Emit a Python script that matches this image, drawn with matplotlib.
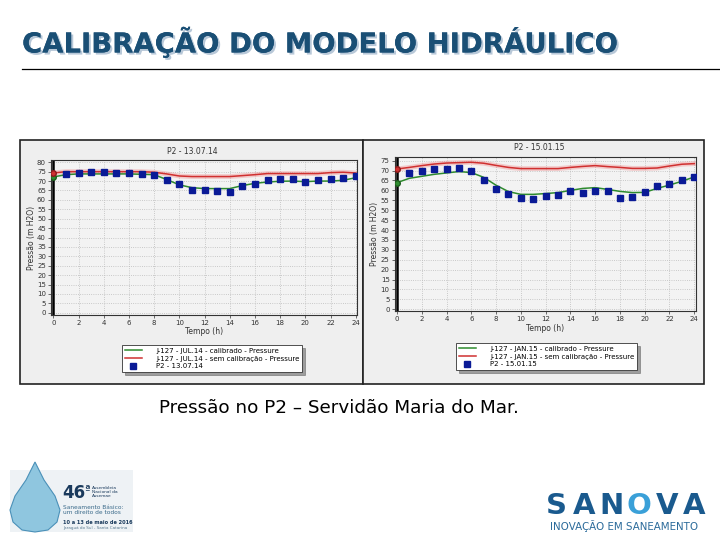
import matplotlib.pyplot as plt
import matplotlib.patheffects as pe
from matplotlib.patches import Rectangle, Polygon
import numpy as np

W, H = 720, 540

# dados (pressão em m H2O, hora a hora)
horas = list(range(25))

# P2 - 13.07.14
jul_calib = [72.2, 73.4, 73.8, 73.8, 73.8, 73.8, 73.8, 73.6, 73.4, 70.8, 68.0, 66.5, 66.0,
             66.0, 66.0, 67.6, 68.8, 69.5, 69.9, 70.0, 69.7, 70.0, 70.0, 70.4, 71.8]
jul_sem = [74.3, 75.0, 75.0, 75.0, 75.0, 75.0, 75.0, 75.0, 74.7, 73.8, 72.7, 72.4, 72.4,
           72.4, 72.4, 72.9, 73.4, 74.0, 74.0, 74.0, 74.0, 74.0, 74.5, 74.7, 74.3]
jul_obs_h = list(range(1, 25))
jul_obs = [73.6, 74.1, 74.7, 74.7, 74.5, 74.5, 74.0, 73.4, 70.4, 68.5, 65.1, 65.5,
           64.8, 64.2, 67.4, 68.7, 70.6, 71.3, 71.3, 69.4, 70.6, 71.0, 71.8, 72.9]

# P2 - 15.01.15
jan_calib = [63.9, 66.1, 67.1, 68.1, 68.8, 69.5, 69.0, 66.6, 62.6, 59.4, 58.0, 58.0, 58.4,
             58.9, 60.0, 61.0, 61.4, 60.5, 59.5, 58.9, 59.0, 61.0, 62.7, 64.6, 66.8]
jan_sem = [70.8, 71.6, 72.5, 73.3, 73.8, 74.0, 74.2, 73.7, 72.6, 71.6, 71.0, 71.0, 71.0,
           71.0, 71.6, 72.1, 72.5, 72.0, 71.6, 71.1, 71.1, 71.3, 72.3, 73.2, 73.5]
jan_obs_h = list(range(1, 25))
jan_obs = [68.6, 69.8, 70.6, 71.0, 71.1, 69.8, 65.4, 60.9, 58.4, 56.3, 55.7, 57.4,
           57.9, 59.9, 58.5, 59.5, 59.9, 56.3, 56.8, 59.0, 62.2, 63.2, 65.3, 66.9]

VERDE = '#2e8b2e'
VERMELHO = '#d03030'
AZUL = '#0a1a96'
TITULO = '#1a4f75'


def caixa(l, t, r, b):
    # pixels -> coordenadas da figura
    return [l / W, 1 - b / H, (r - l) / W, (b - t) / H]


fig = plt.figure(figsize=(W / 100, H / 100), dpi=100)
fundo = fig.add_axes([0, 0, 1, 1])
fundo.set_xlim(0, W)
fundo.set_ylim(H, 0)
fundo.axis('off')

# titulo do slide (com sombra clara)
fundo.text(22, 42, 'CALIBRAÇÃO DO MODELO HIDRÁULICO', fontsize=19.8, fontweight='bold',
           color=TITULO, va='center', ha='left',
           path_effects=[pe.withSimplePatchShadow(offset=(1.5, -1.5), shadow_rgbFace='#b8c8d8',
                                                  alpha=1.0), pe.Normal()])
fundo.plot([22, 720], [69, 69], color='black', lw=0.9)

# moldura da captura de tela
for l, r in [(20, 363), (363, 704)]:
    fundo.add_patch(Rectangle((l, 140), r - l, 244, facecolor='#efefef',
                              edgecolor='#222222', lw=1.2))

fundo.text(339, 408, 'Pressão no P2 – Servidão Maria do Mar.', fontsize=13.2,
           color='black', va='center', ha='center')

# logo da assembleia (esquerda)
fundo.add_patch(Rectangle((10, 470), 123, 62, facecolor='#eef2f5', edgecolor='none'))
gota = np.array([[35, 462], [44, 480], [55, 496], [60, 510], [57, 522], [48, 530], [35, 532],
                 [22, 530], [13, 522], [10, 510], [15, 496], [26, 480]])
fundo.add_patch(Polygon(gota, closed=True, facecolor='#8fc6df', edgecolor='#4a90b8', lw=0.8))
fundo.text(62, 493, '46', fontsize=12, fontweight='bold', color='#1a3a5c', va='center')
fundo.text(84, 489, 'ª', fontsize=7, fontweight='bold', color='#1a3a5c', va='center')
fundo.text(92, 492, 'Assembleia\nNacional da\nAssemae', fontsize=3.2, color='#1a3a5c',
           va='center', linespacing=1.0)
fundo.text(63, 510, 'Saneamento Básico:\num direito de todos', fontsize=4.2, color='#3a6a8a',
           va='center', linespacing=1.0)
fundo.text(63, 523, '10 a 13 de maio de 2016', fontsize=3.6, fontweight='bold',
           color='#1a3a5c', va='center')
fundo.text(63, 528, 'Jaraguá do Sul - Santa Catarina', fontsize=3, color='#5a7a90', va='center')

# logo sanova (direita), letra a letra para abrir o espaçamento
for i, letra in enumerate('SANOVA'):
    cor = '#3aa0d8' if letra == 'O' else '#1a5a8e'
    fundo.text(543 + 13.75 + 27.5 * i, 514, letra, fontsize=21, fontweight='bold', color=cor,
               va='baseline', ha='center')
fundo.text(624, 526.5, 'INOVAÇÃO EM SANEAMENTO', fontsize=7.4, color='#2a6a9a',
           va='center', ha='center')


def grafico(pos, ylim, yticks, calib, sem, obs_h, obs, titulo_g, titulo_xy, rotulos, leg_xy):
    ax = fig.add_axes(caixa(*pos))
    ax.set_facecolor('#f3f3f3')
    ax.set_xlim(-0.2, 24.1)
    ax.set_ylim(*ylim)
    ax.set_xticks(range(0, 25, 2))
    ax.set_yticks(yticks)
    ax.grid(True, color='#bbbbbb', ls=':', lw=0.6)
    ax.tick_params(labelsize=5, length=2, width=0.5, pad=1.5, colors='#333333')
    for s in ax.spines.values():
        s.set_color('#333333')
        s.set_linewidth(0.8)
    ax.set_xlabel('Tempo (h)', fontsize=5.5, labelpad=1, color='#333333')
    ax.set_ylabel('Pressão (m H2O)', fontsize=5.5, labelpad=1, color='#333333')
    ax.axvline(0, color='black', lw=1.8, zorder=2)
    ax.plot(horas, sem, color='#f08080', lw=3.5, alpha=0.35, zorder=3)
    l1, = ax.plot(horas, calib, color=VERDE, lw=1.1, zorder=4, label=rotulos[0])
    l2, = ax.plot(horas, sem, color=VERMELHO, lw=1.1, zorder=4, label=rotulos[1])
    l3, = ax.plot(obs_h, obs, ls='none', marker='s', ms=4, color=AZUL, zorder=5, label=rotulos[2])
    ax.plot([0], [calib[0]], 'o', ms=4, color=VERDE, mec='#1a5a1a', zorder=6)
    ax.plot([0], [sem[0]], 'o', ms=4, color=VERMELHO, mec='#8a1a1a', zorder=6)
    fundo.text(titulo_xy[0], titulo_xy[1], titulo_g, fontsize=5.5, color='#333333',
               ha='center', va='center')
    leg = fig.legend(handles=[l1, l2, l3], loc='upper left',
                     bbox_to_anchor=(leg_xy[0] / W, 1 - leg_xy[1] / H), fontsize=5,
                     frameon=True, fancybox=False, shadow=True, borderpad=0.4,
                     labelspacing=0.25, handlelength=2.5, handletextpad=2, borderaxespad=0)
    leg.get_frame().set_edgecolor('#333333')
    leg.get_frame().set_linewidth(0.6)
    return ax


grafico((50.8, 160.0, 357.0, 315.0), (-1.2, 81.2), range(0, 81, 5),
        jul_calib, jul_sem, jul_obs_h, jul_obs, 'P2 - 13.07.14', (192, 151.5),
        ['J-127 - JUL.14 - calibrado - Pressure', 'J-127 - JUL.14 - sem calibração - Pressure',
         'P2 - 13.07.14'], (122, 345))

grafico((394.5, 156.7, 695.5, 311.3), (-1, 77), range(0, 76, 5),
        jan_calib, jan_sem, jan_obs_h, jan_obs, 'P2 - 15.01.15', (539, 148),
        ['J-127 - JAN.15 - calibrado - Pressure', 'J-127 - JAN.15 - sem calibração - Pressure',
         'P2 - 15.01.15'], (456, 343))

fig.savefig('out.png', dpi=100)
